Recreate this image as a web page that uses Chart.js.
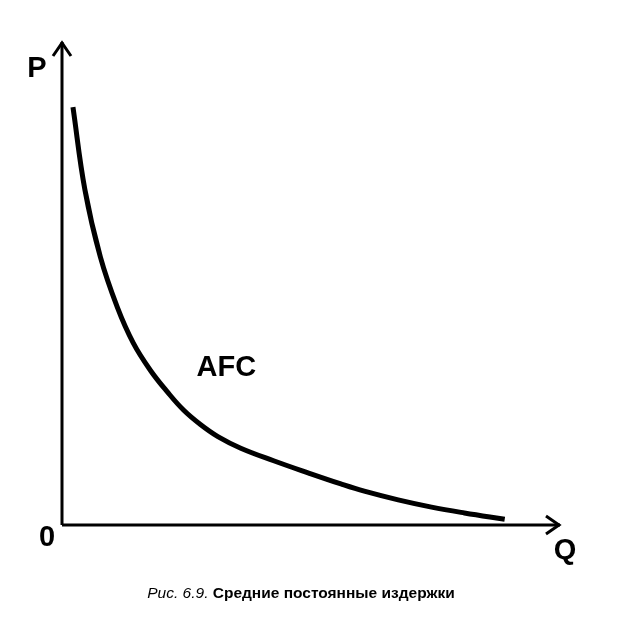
<!DOCTYPE html>
<html>
<head>
<meta charset="utf-8">
<script src="https://cdn.jsdelivr.net/npm/chart.js@4"></script>
<style>
  html, body { margin: 0; padding: 0; background: #fff; }
  #wrap { width: 624px; height: 631px; position: relative; }
</style>
</head>
<body>
<div id="wrap"><canvas id="afc"></canvas></div>
<script>
// AFC curve (Q, P in 0..100 units)
const q_values = [2.2, 4.6, 7.7, 11.1, 14.3, 17.7, 21.2, 24.4, 27.8, 31.3, 35.9, 42.5, 49.4, 56.0, 60.7, 67.5, 74.2, 80.8, 88.9];
const p_values = [86.5, 69.4, 55.5, 45.1, 37.7, 32.1, 27.5, 23.8, 20.8, 18.3, 15.9, 13.3, 10.8, 8.5, 7.0, 5.2, 3.7, 2.5, 1.2];
const axis_labels = { x: 'Q', y: 'P', origin: '0' };
const curve_label = 'AFC';
const caption_num = 'Рис. 6.9.';
const caption_text = 'Средние постоянные издержки';

const FONT = '"Liberation Sans", Arial, sans-serif';

// axes with arrow heads, letters and the caption
const axesPlugin = {
  id: 'econAxes',
  afterDatasetsDraw(chart) {
    const { ctx, chartArea: { left, right, top, bottom }, scales: { x, y } } = chart;
    ctx.save();
    ctx.strokeStyle = '#000';
    ctx.lineWidth = 3;
    ctx.lineCap = 'butt';
    ctx.beginPath();
    ctx.moveTo(left, bottom);
    ctx.lineTo(left, top);
    ctx.moveTo(left, bottom);
    ctx.lineTo(right, bottom);
    ctx.stroke();
    // arrow heads
    ctx.lineJoin = 'miter';
    ctx.beginPath();
    ctx.moveTo(left - 9, top + 14);
    ctx.lineTo(left, top + 1);
    ctx.lineTo(left + 9, top + 14);
    ctx.moveTo(right - 14, bottom - 9);
    ctx.lineTo(right - 1, bottom);
    ctx.lineTo(right - 14, bottom + 9);
    ctx.stroke();

    ctx.fillStyle = '#000';
    ctx.textAlign = 'center';
    ctx.textBaseline = 'middle';
    ctx.font = 'bold 29px ' + FONT;
    ctx.fillText(axis_labels.y, left - 25, top + 27);
    ctx.fillText(axis_labels.origin, left - 15, bottom + 13);
    ctx.fillText(axis_labels.x, right + 5, bottom + 26);
    ctx.fillText(curve_label, x.getPixelForValue(33.0), y.getPixelForValue(32.5));

    // caption
    ctx.textBaseline = 'alphabetic';
    ctx.textAlign = 'left';
    ctx.font = 'italic 15.5px ' + FONT;
    const w1 = ctx.measureText(caption_num + ' ').width;
    ctx.font = 'bold 15.5px ' + FONT;
    const w2 = ctx.measureText(caption_text).width;
    const x0 = 301 - (w1 + w2) / 2;
    ctx.font = 'italic 15.5px ' + FONT;
    ctx.fillText(caption_num + ' ', x0, 598);
    ctx.font = 'bold 15.5px ' + FONT;
    ctx.fillText(caption_text, x0 + w1, 598);
    ctx.restore();
  }
};

new Chart(document.getElementById('afc'), {
  type: 'line',
  data: {
    datasets: [{
      label: curve_label,
      data: q_values.map((q, i) => ({ x: q, y: p_values[i] })),
      borderColor: '#000',
      borderWidth: 5,
      pointRadius: 0,
      fill: false,
      tension: 0.4,
      borderCapStyle: 'butt'
    }]
  },
  options: {
    responsive: true,
    maintainAspectRatio: false,
    animation: false,
    layout: { padding: { left: 62, right: 64, top: 42, bottom: 106 } },
    scales: {
      x: { type: 'linear', min: 0, max: 100, display: false },
      y: { type: 'linear', min: 0, max: 100, display: false }
    },
    plugins: { legend: { display: false }, tooltip: { enabled: false } }
  },
  plugins: [axesPlugin]
});
</script>
</body>
</html>
